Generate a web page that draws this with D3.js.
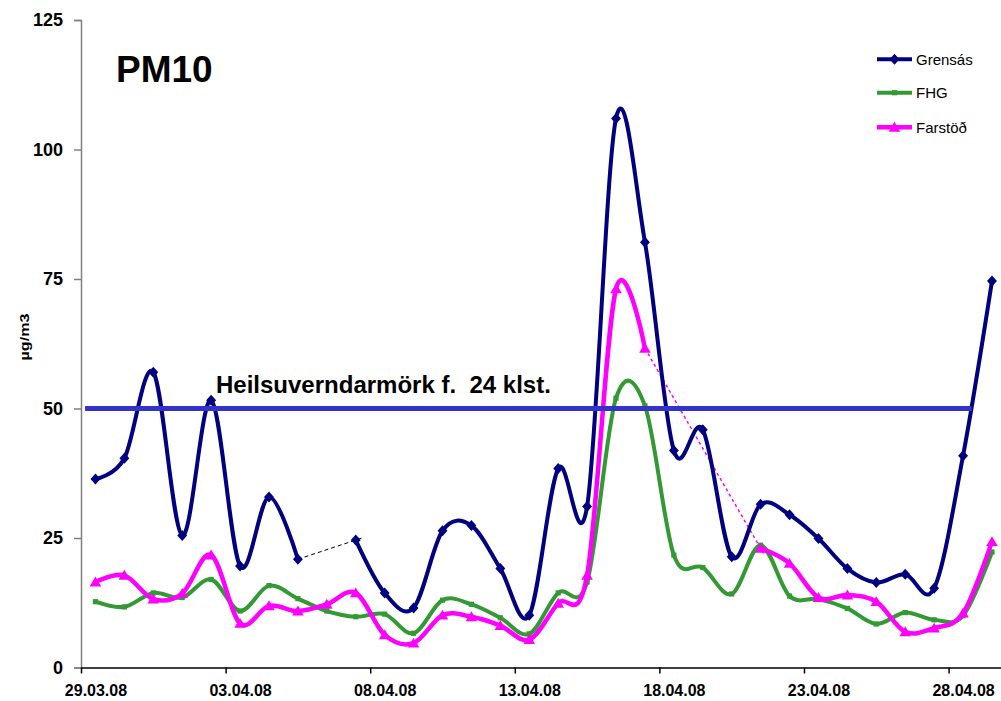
<!DOCTYPE html>
<html>
<head>
<meta charset="utf-8">
<script src="https://cdn.jsdelivr.net/npm/d3@7/dist/d3.min.js"></script>
<style>
  html, body { margin: 0; padding: 0; background: #fff; }
  svg { display: block; font-family: Arial, "Liberation Sans", sans-serif; }
</style>
</head>
<body>
<svg id="chart" width="1001" height="701"></svg>
<script>
// ---- data ----
const dates = ["29.03.08","30.03.08","31.03.08","01.04.08","02.04.08","03.04.08","04.04.08","05.04.08",
  "06.04.08","07.04.08","08.04.08","09.04.08","10.04.08","11.04.08","12.04.08","13.04.08",
  "14.04.08","15.04.08","16.04.08","17.04.08","18.04.08","19.04.08","20.04.08","21.04.08",
  "22.04.08","23.04.08","24.04.08","25.04.08","26.04.08","27.04.08","28.04.08","29.04.08"];
const tickLabels = ["29.03.08","03.04.08","08.04.08","13.04.08","18.04.08","23.04.08","28.04.08"];
const yTicks = [0, 25, 50, 75, 100, 125];
const grensas = [36.4, 40.4, 57.0, 25.5, 51.6, 19.6, 32.9, 20.9, null, 24.6, 14.4, 11.5, 26.4, 27.4, 19.1, 10.1,
  38.4, 31.1, 106.0, 82.1, 41.9, 45.9, 21.4, 31.5, 29.5, 24.9, 19.1, 16.4, 18.0, 15.3, 40.9, 74.6];
const fhg = [12.7, 11.7, 14.4, 13.5, 17.0, 10.9, 15.8, 13.3, 10.9, 9.8, 10.3, 6.6, 13.0, 12.2, 9.6, 6.5,
  14.4, 16.5, 52.0, 50.5, 21.7, 19.3, 14.2, 23.6, 13.8, 13.2, 11.4, 8.4, 10.6, 9.2, 10.0, 22.3];
const farstod = [16.5, 17.8, 13.2, 14.3, 21.7, 8.5, 11.9, 10.9, 12.2, 14.4, 6.3, 4.7, 10.1, 9.8, 8.1, 5.4,
  12.4, 17.8, 73.1, 61.6, null, null, null, 23.0, 20.1, 13.5, 14.0, 12.7, 6.9, 7.6, 10.5, 24.3];
const seriesNames = ["Grensás", "FHG", "Farstöð"];
const limitValue = 50;
const limitLabel = "Heilsuverndarmörk f.  24 klst.";
const title = "PM10";
const yLabel = "µg/m3";

// ---- layout ----
const svg = d3.select("#chart");
const x = d3.scaleLinear().domain([0, 32]).range([81, 81 + 32 * 28.92]);
const y = d3.scaleLinear().domain([0, 125]).range([667.5, 20]);
const colors = ["#000080", "#339933", "#ff00ff"];
const widths = [4, 4, 4.5];
const series = [grensas, fhg, farstod].map((vals, k) => ({
  name: seriesNames[k], color: colors[k], width: widths[k],
  pts: vals.map((v, i) => ({ i, v }))
}));

// axes
const yAxis = d3.axisLeft(y).tickValues(yTicks).tickSize(7).tickPadding(11).tickFormat(d3.format("d"));
const gy = svg.append("g").attr("transform", `translate(${x(0)},0)`).call(yAxis);
gy.select(".domain").attr("stroke", "#808080").attr("stroke-width", 1.5);
gy.selectAll(".tick line").attr("stroke", "#808080").attr("stroke-width", 1.5);
gy.selectAll("text").attr("font-size", 18).attr("font-weight", "bold").attr("fill", "#000")
  .attr("font-family", "Arial, 'Liberation Sans', sans-serif");

const xAxis = d3.axisBottom(x).tickValues(d3.range(0, 31, 5)).tickSize(6).tickSizeOuter(0)
  .tickFormat((d, i) => tickLabels[i]);
const gx = svg.append("g").attr("transform", `translate(0,${y(0)})`).call(xAxis);
gx.select(".domain").attr("stroke", "#000").attr("stroke-width", 1.5);
gx.selectAll(".tick line").attr("stroke", "#000").attr("stroke-width", 1.5);
const halfDay = x(0.5) - x(0);
gx.selectAll("text").attr("font-size", 16).attr("font-weight", "bold").attr("fill", "#000")
  .attr("x", halfDay).attr("y", 28.5).attr("dy", 0).attr("font-family", "Arial, 'Liberation Sans', sans-serif");

// y label
svg.append("text").attr("transform", `translate(29,337) rotate(-90)`)
  .attr("text-anchor", "middle").attr("font-size", 13).attr("font-weight", "bold")
  .attr("textLength", 47).attr("lengthAdjust", "spacingAndGlyphs").text(yLabel);

// title
svg.append("text").attr("x", 116).attr("y", 81.5).attr("font-size", 37).attr("font-weight", "bold").text(title);

// series lines
const line = d3.line().defined(d => d.v != null)
  .x(d => x(d.i + 0.5)).y(d => y(d.v)).curve(d3.curveCardinal.tension(0));

// gap connectors (dashed)
function gapLinks(s) {
  const out = [];
  const p = s.pts;
  for (let i = 0; i < p.length; i++) {
    if (p[i].v != null && i + 1 < p.length && p[i + 1].v == null) {
      let j = i + 1; while (j < p.length && p[j].v == null) j++;
      if (j < p.length) out.push([p[i], p[j]]);
    }
  }
  return out;
}
const dashColors = ["#000", null, "#ff00ff"];
series.forEach((s, k) => {
  if (!dashColors[k]) return;
  gapLinks(s).forEach(([a, b]) => {
    const ext = k === 0 ? 0.22 : 0.1;
    const slope = (b.v - a.v) / (b.i - a.i);
    svg.append("line")
      .attr("x1", x(a.i + 0.5)).attr("y1", y(a.v))
      .attr("x2", x(b.i + 0.5 + ext)).attr("y2", y(b.v + slope * ext))
      .attr("stroke", dashColors[k]).attr("stroke-width", k === 0 ? 1 : 1.5)
      .attr("stroke-dasharray", k === 0 ? "4,3" : "3,3");
  });
});

function marker(g, k, cx, cy, scale) {
  const c = colors[k];
  if (k === 0) {
    const r = 5.5 * scale;
    g.append("path").attr("d", `M${cx},${cy - r}L${cx + r * 0.9},${cy}L${cx},${cy + r}L${cx - r * 0.9},${cy}Z`).attr("fill", c);
  } else if (k === 1) {
    const r = 2.6 * scale;
    g.append("rect").attr("x", cx - r).attr("y", cy - r).attr("width", 2 * r).attr("height", 2 * r).attr("fill", c);
  } else {
    const r = 5.5 * scale;
    g.append("path").attr("d", `M${cx},${cy - r}L${cx + r * 1.05},${cy + r * 0.8}L${cx - r * 1.05},${cy + r * 0.8}Z`).attr("fill", c);
  }
}

series.forEach((s, k) => {
  svg.append("path").datum(s.pts).attr("d", line).attr("fill", "none")
    .attr("stroke", s.color).attr("stroke-width", s.width).attr("stroke-linejoin", "round");
  const g = svg.append("g");
  s.pts.filter(d => d.v != null).forEach(d => marker(g, k, x(d.i + 0.5), y(d.v), 1));
});

// limit line
svg.append("line").attr("x1", x(0.14)).attr("x2", x(30.8)).attr("y1", y(limitValue)).attr("y2", y(limitValue))
  .attr("stroke", "#3333cc").attr("stroke-width", 5);
svg.append("text").attr("x", 216).attr("y", 392.5).attr("font-size", 24).attr("font-weight", "bold")
  .style("white-space", "pre").text(limitLabel);

// legend
const lg = svg.append("g");
const legY = [59.3, 92.7, 127.3];
series.forEach((s, k) => {
  lg.append("line").attr("x1", 877).attr("x2", 912).attr("y1", legY[k]).attr("y2", legY[k])
    .attr("stroke", s.color).attr("stroke-width", s.width);
  marker(lg, k, 894.5, legY[k], 1);
  lg.append("text").attr("x", 916).attr("y", legY[k]).attr("dy", "0.36em").attr("font-size", 15)
    .attr("fill", "#000").text(s.name);
});
</script>
</body>
</html>
